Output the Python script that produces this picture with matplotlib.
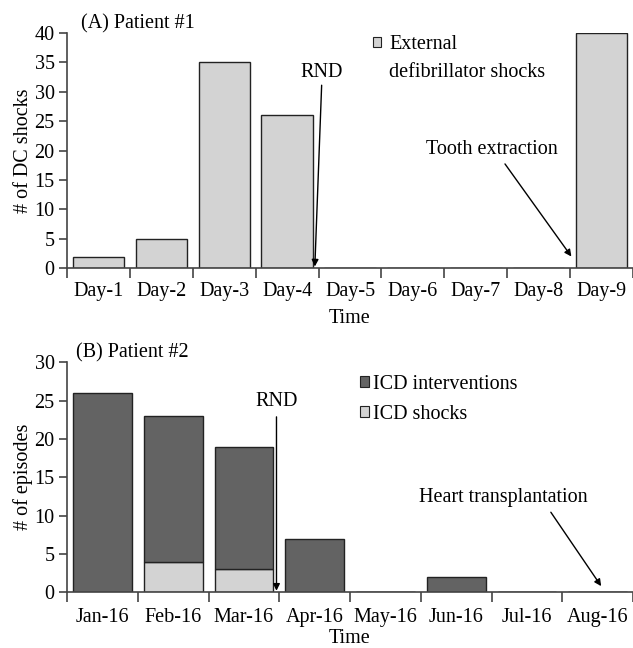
import numpy as np
import matplotlib
matplotlib.use("Agg")
import matplotlib.pyplot as plt
from matplotlib.patches import Patch

plt.rcParams['font.family'] = ['Liberation Serif', 'DejaVu Serif']
plt.rcParams['font.size'] = 14.5

# ---- data ----
days = ["Day-1", "Day-2", "Day-3", "Day-4", "Day-5", "Day-6", "Day-7", "Day-8", "Day-9"]
dc_shocks = [2, 5, 35, 26, 0, 0, 0, 0, 40]

months = ["Jan-16", "Feb-16", "Mar-16", "Apr-16", "May-16", "Jun-16", "Jul-16", "Aug-16"]
icd_total = [26, 23, 19, 7, 0, 2, 0, 0]
icd_shocks = [0, 4, 3, 0, 0, 0, 0, 0]

light = "#d3d3d3"
dark = "#636363"
edge = "#222222"
spine_c = "#444444"

fig = plt.figure(figsize=(6.33, 6.48), dpi=100)
axA = fig.add_axes([0.106, 0.586, 0.894, 0.363])
axB = fig.add_axes([0.106, 0.086, 0.894, 0.355])


def style(ax, n):
    for s in ["top", "right"]:
        ax.spines[s].set_visible(False)
    for s in ["left", "bottom"]:
        ax.spines[s].set_color(spine_c)
        ax.spines[s].set_linewidth(1.2)
    ax.set_xlim(-0.5, n - 0.5)
    # ticks between categories, labels at centers
    ax.set_xticks(np.arange(n + 1) - 0.5)
    ax.set_xticklabels([])
    ax.tick_params(axis="x", which="major", direction="out", length=7, width=1.2, color=spine_c)
    ax.tick_params(axis="y", direction="out", length=6, width=1.2, color=spine_c, pad=3)


arrow = dict(arrowstyle="-|>", color="black", lw=1.0, mutation_scale=10, shrinkB=0)

# ---- panel A ----
xa = np.arange(len(days))
axA.bar(xa, dc_shocks, width=0.82, color=light, edgecolor=edge, linewidth=1.0)
style(axA, len(days))
axA.set_xticks(xa, minor=True)
axA.set_xticklabels(days, minor=True)
axA.tick_params(axis="x", which="minor", length=0, pad=10)
axA.set_ylim(0, 40)
axA.set_yticks(range(0, 41, 5))
axA.set_ylabel("# of DC shocks", labelpad=1)
axA.set_xlabel("Time", labelpad=6)
axA.text(0.025, 1.0, "(A) Patient #1", transform=axA.transAxes, ha="left", va="bottom")
axA.legend(handles=[Patch(facecolor=light, edgecolor=edge, linewidth=0.8)],
           labels=["External"], loc="upper left",
           bbox_to_anchor=(0.541, 0.99), frameon=False, handlelength=0.4,
           handleheight=0.4, handletextpad=0.4, borderpad=0, borderaxespad=0)
axA.text(0.568, 0.815, "defibrillator shocks", transform=axA.transAxes, ha="left", va="baseline")
axA.annotate("RND", xy=(3.44, 0.3), xytext=(3.55, 31.6), ha="center", va="bottom",
             arrowprops=dict(arrow, shrinkA=0, relpos=(0.5, 0)))
axA.annotate("Tooth extraction", xy=(7.52, 2.0), xytext=(6.26, 18.6), ha="center", va="bottom",
             arrowprops=dict(arrow, shrinkA=2, relpos=(0.57, 0)))

# ---- panel B ----
xb = np.arange(len(months))
icd_only = [t - s for t, s in zip(icd_total, icd_shocks)]
axB.bar(xb, icd_shocks, width=0.83, color=light, edgecolor=edge, linewidth=1.0)
axB.bar(xb, icd_only, bottom=icd_shocks, width=0.83, color=dark, edgecolor=edge, linewidth=1.0)
style(axB, len(months))
axB.set_xticks(xb, minor=True)
axB.set_xticklabels(months, minor=True)
axB.tick_params(axis="x", which="minor", length=0, pad=11)
axB.set_ylim(0, 30)
axB.set_yticks(range(0, 31, 5))
axB.set_ylabel("# of episodes", labelpad=1)
axB.set_xlabel("Time", labelpad=2)
axB.text(0.015, 1.0, "(B) Patient #2", transform=axB.transAxes, ha="left", va="bottom")
axB.legend(handles=[Patch(facecolor=dark, edgecolor=edge, linewidth=0.8),
                    Patch(facecolor=light, edgecolor=edge, linewidth=0.8)],
           labels=["ICD interventions", "ICD shocks"], loc="upper left",
           bbox_to_anchor=(0.5, 0.99), frameon=False, handlelength=0.45,
           handleheight=0.45, handletextpad=0.2, borderpad=0, labelspacing=0.55)
axB.annotate("RND", xy=(2.46, 0.2), xytext=(2.46, 23.6), ha="center", va="bottom",
             arrowprops=dict(arrow, shrinkA=2))
axB.annotate("Heart transplantation", xy=(7.05, 0.8), xytext=(5.67, 11.1), ha="center",
             va="bottom", arrowprops=dict(arrow, shrinkA=2, relpos=(0.76, 0)))

fig.savefig("out.png", dpi=100)
